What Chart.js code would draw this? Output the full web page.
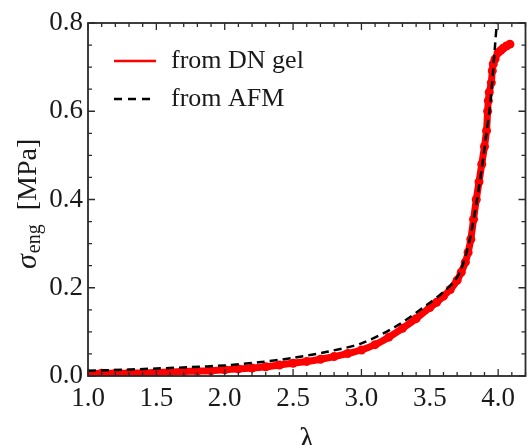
<!DOCTYPE html>
<html>
<head>
<meta charset="utf-8">
<script src="https://cdn.jsdelivr.net/npm/chart.js@4/dist/chart.umd.min.js"></script>
<style>
  html, body { margin: 0; padding: 0; background: #fff; }
  #wrap { width: 530px; height: 445px; }
</style>
</head>
<body>
<div id="wrap"><canvas id="chart" width="530" height="445"></canvas></div>
<script>
// stretch ratio and engineering stress
const lambdaDN = [1.00, 1.10, 1.20, 1.30, 1.40, 1.50, 1.60, 1.70, 1.80, 1.90,
    2.00, 2.10, 2.20, 2.30, 2.40, 2.50, 2.60, 2.70, 2.80, 2.90,
    3.00, 3.10, 3.20, 3.30, 3.40, 3.50, 3.55, 3.60, 3.65, 3.70,
    3.73, 3.76, 3.78, 3.80, 3.82, 3.84, 3.86, 3.88, 3.90, 3.915,
    3.923, 3.928, 3.935, 3.950, 3.957, 3.964, 3.977, 4.000, 4.020, 4.037,
    4.060, 4.086];
const sigmaDN = [0.005, 0.006, 0.006, 0.007, 0.007, 0.008, 0.009, 0.010, 0.011, 0.012,
    0.014, 0.016, 0.018, 0.021, 0.025, 0.029, 0.033, 0.038, 0.044, 0.051,
    0.059, 0.071, 0.088, 0.108, 0.130, 0.155, 0.167, 0.181, 0.196, 0.217,
    0.235, 0.258, 0.280, 0.310, 0.355, 0.400, 0.440, 0.480, 0.520, 0.556,
    0.600, 0.624, 0.643, 0.665, 0.692, 0.707, 0.718, 0.733, 0.738, 0.743,
    0.748, 0.752];

const lambdaAFM = [1.00, 1.25, 1.50, 1.75, 2.00, 2.25, 2.50, 2.75, 3.00, 3.25,
    3.50, 3.60, 3.68, 3.72, 3.76, 3.80, 3.84, 3.88, 3.91, 3.94,
    3.96, 3.975, 3.99, 4.00];
const sigmaAFM = [0.012, 0.014, 0.017, 0.020, 0.024, 0.031, 0.041, 0.055, 0.074, 0.112,
    0.166, 0.190, 0.215, 0.235, 0.270, 0.320, 0.390, 0.470, 0.540, 0.610,
    0.680, 0.740, 0.800, 0.840];

const xTicks = [1.0, 1.5, 2.0, 2.5, 3.0, 3.5, 4.0];
const yTicks = [0.0, 0.2, 0.4, 0.6, 0.8];
const legendLabels = ['from DN gel', 'from AFM'];

const SERIF = '"Liberation Serif", "DejaVu Serif", serif';

function toPoints(xs, ys) {
    return xs.map((x, i) => ({ x: x, y: ys[i] }));
}

// frame, inward ticks on all four sides, legend and axis titles
const decorations = {
    id: 'decorations',
    afterDatasetsDraw(chart) {
        const { ctx, chartArea: a, scales } = chart;
        const xs = scales.x;
        const ys = scales.y;
        ctx.save();
        ctx.strokeStyle = '#2a2a2a';
        ctx.lineWidth = 1.8;
        ctx.strokeRect(a.left, a.top, a.right - a.left, a.bottom - a.top);

        ctx.lineWidth = 1.3;
        ctx.beginPath();
        for (let i = 10; i <= 42; i++) {
            const v = i / 10;
            const px = xs.getPixelForValue(v);
            if (px < a.left - 0.5 || px > a.right + 0.5) continue;
            const len = i % 5 === 0 ? 7 : 4;
            ctx.moveTo(px, a.bottom); ctx.lineTo(px, a.bottom - len);
            ctx.moveTo(px, a.top); ctx.lineTo(px, a.top + len);
        }
        for (let i = 0; i <= 16; i++) {
            const v = i * 0.05;
            const py = ys.getPixelForValue(v);
            const len = i % 4 === 0 ? 7 : 4;
            ctx.moveTo(a.left, py); ctx.lineTo(a.left + len, py);
            ctx.moveTo(a.right, py); ctx.lineTo(a.right - len, py);
        }
        ctx.stroke();

        // legend
        ctx.font = '26px ' + SERIF;
        ctx.fillStyle = '#1a1a1a';
        ctx.textBaseline = 'middle';
        ctx.textAlign = 'left';
        ctx.strokeStyle = '#ff0000';
        ctx.lineWidth = 2.5;
        ctx.beginPath(); ctx.moveTo(114, 61); ctx.lineTo(156, 61); ctx.stroke();
        ctx.fillText(legendLabels[0], 171, 61);
        ctx.strokeStyle = '#000';
        ctx.setLineDash([8, 6]);
        ctx.beginPath(); ctx.moveTo(114, 99); ctx.lineTo(156, 99); ctx.stroke();
        ctx.setLineDash([]);
        ctx.fillText(legendLabels[1], 171, 99);

        // x title
        ctx.textAlign = 'center';
        ctx.textBaseline = 'alphabetic';
        ctx.font = '32px ' + SERIF;
        ctx.fillText('λ', (a.left + a.right) / 2, 449);

        // y title, rotated
        ctx.translate(36, 269);
        ctx.rotate(-Math.PI / 2);
        ctx.textAlign = 'left';
        ctx.font = 'italic 30px ' + SERIF;
        ctx.fillText('σ', 0, 0);
        let w = ctx.measureText('σ').width;
        ctx.font = '20px ' + SERIF;
        ctx.fillText('eng', w + 1, 4);
        w += 1 + ctx.measureText('eng').width + 14;
        ctx.font = '28px ' + SERIF;
        ctx.fillText('[MPa]', w, 0);
        ctx.restore();
    }
};

new Chart(document.getElementById('chart'), {
    type: 'scatter',
    data: {
        datasets: [{
            label: legendLabels[1],
            data: toPoints(lambdaAFM, sigmaAFM),
            showLine: true,
            borderColor: '#000',
            borderWidth: 2.5,
            borderDash: [8, 5],
            pointRadius: 0,
            tension: 0.3,
            clip: 0,
            order: 0
        }, {
            label: legendLabels[0],
            data: toPoints(lambdaDN, sigmaDN),
            showLine: true,
            borderColor: '#ff0000',
            backgroundColor: '#ff0000',
            borderWidth: 7,
            pointRadius: 4.5,
            pointBorderWidth: 0,
            tension: 0.2,
            clip: 0,
            order: 1
        }]
    },
    options: {
        responsive: false,
        animation: false,
        layout: { padding: { top: 23, right: 3, left: 0, bottom: 0 } },
        plugins: { legend: { display: false }, tooltip: { enabled: false } },
        scales: {
            x: {
                type: 'linear',
                min: 1.0,
                max: 4.2,
                afterBuildTicks: (s) => { s.ticks = xTicks.map((v) => ({ value: v })); },
                afterFit: (s) => { s.height = 69; },
                grid: { display: false, drawTicks: false },
                border: { display: false },
                ticks: {
                    color: '#1a1a1a',
                    padding: 7,
                    maxRotation: 0,
                    font: { family: SERIF, size: 27 },
                    callback: (v) => Number(v).toFixed(1)
                }
            },
            y: {
                type: 'linear',
                min: 0,
                max: 0.8,
                afterBuildTicks: (s) => { s.ticks = yTicks.map((v) => ({ value: v })); },
                afterFit: (s) => { s.width = 88; },
                grid: { display: false, drawTicks: false },
                border: { display: false },
                ticks: {
                    color: '#1a1a1a',
                    padding: 5,
                    font: { family: SERIF, size: 27 },
                    callback: (v) => Number(v).toFixed(1)
                }
            }
        }
    },
    plugins: [decorations]
});
</script>
</body>
</html>
